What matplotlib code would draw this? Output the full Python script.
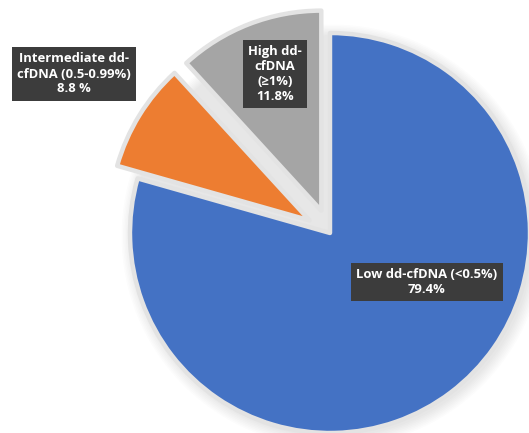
import matplotlib.pyplot as plt

plt.rcParams['font.family'] = ['Open Sans', 'DejaVu Sans']

# share of patients per dd-cfDNA group
groups = ['Low dd-cfDNA (<0.5%)', 'Intermediate dd-\ncfDNA (0.5-0.99%)', 'High dd-\ncfDNA\n(≥1%)']
shares = [79.4, 8.8, 11.8]
pct_fmt = ['{:.1f}%', '{:.1f} %', '{:.1f}%']
colors = ['#4472C4', '#ED7D31', '#A5A5A5']

fig = plt.figure(figsize=(5.29, 4.33), dpi=100)
ax = fig.add_axes([0, 0, 1, 1])

cx, cy, r = 330, 200, 200
# pull the two small slices out (pie offsets are in data units)
explode = [0, 24, 24]

# soft shadow under the pie
for k in range(8):
    ax.add_patch(plt.Circle((cx + 3, cy - 3), r + 1 + k * 1.5, color='#000000',
                            alpha=0.012, lw=0, zorder=0))

wedges, _ = ax.pie(shares, colors=colors, explode=explode, startangle=90,
                   counterclock=False, center=(cx, cy), radius=r, frame=True,
                   wedgeprops=dict(edgecolor='#E3E3E3', linewidth=3.2,
                                   joinstyle='round'))
ax.set_xlim(0, 529)
ax.set_ylim(0, 433)
ax.set_aspect('equal')
ax.axis('off')

# label positions (pixel coords, y measured from bottom)
label_pos = [(427, 433 - 282), (74, 433 - 74), (275, 433 - 74)]
for name, val, fmt, (x, y) in zip(groups, shares, pct_fmt, label_pos):
    ax.text(x, y, name + '\n' + fmt.format(val), ha='center', va='center',
            fontsize=9.4, fontweight='bold', color='white', linespacing=1.2,
            bbox=dict(boxstyle='square,pad=0.4', facecolor='#3C3C3C',
                      edgecolor='none'), zorder=5)

fig.savefig('out.png', dpi=100)
